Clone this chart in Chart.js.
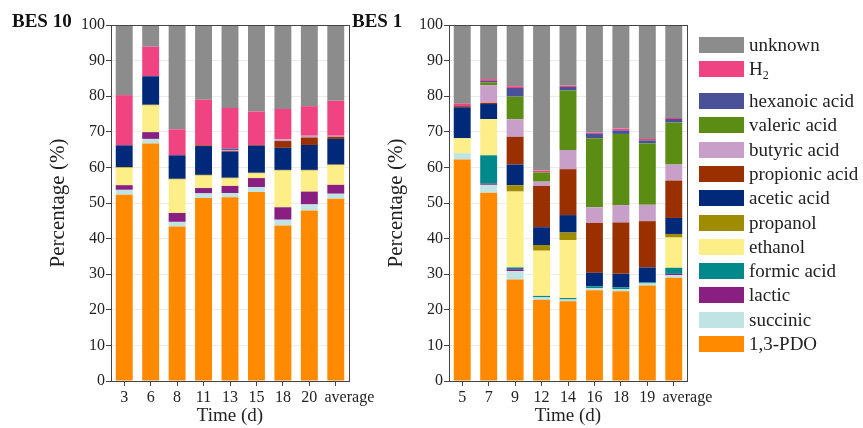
<!DOCTYPE html>
<html>
<head>
<meta charset="utf-8">
<script src="https://cdn.jsdelivr.net/npm/chart.js@4.4.1/dist/chart.umd.min.js"></script>
<style>
    body { margin: 0; background: #fff; font-family: 'Liberation Serif', serif; }
    #wrap { position: relative; width: 863px; height: 428px; overflow: hidden; }
    canvas { position: absolute; top: 0; }
    .panel-title { position: absolute; top: 11px; font-weight: bold; font-size: 19px; line-height: 19px; color: #111; }
    .legend-item { position: absolute; left: 699px; height: 16px; display: flex; align-items: center; font-size: 19px; color: #222; white-space: nowrap; }
    .legend-item .box { width: 45px; height: 16px; margin-right: 5px; flex: none; }
    .legend-item sub { font-size: 12px; position: relative; top: 4px; vertical-align: baseline; }
</style>
</head>
<body>
<div id="wrap">
    <canvas id="bes10" width="385" height="428" style="left:0px"></canvas>
    <canvas id="bes1" width="385" height="428" style="left:338px"></canvas>
    <div class="panel-title" style="left:12px">BES 10</div>
    <div class="panel-title" style="left:352px">BES 1</div>
    <div id="legend"></div>
</div>
<script>
// time points
const bes10Days = ['3', '6', '8', '11', '13', '15', '18', '20', 'average'];
const bes1Days = ['5', '7', '9', '12', '14', '16', '18', '19', 'average'];

// stacked from the bottom up
const seriesNames = ['1,3-PDO', 'succinic', 'lactic', 'formic acid', 'ethanol', 'propanol', 'acetic acid',
    'propionic acid', 'butyric acid', 'valeric acid', 'hexanoic acid', 'H2', 'unknown'];

// BES 10 (%)
const pdo10 = [52.3, 66.7, 43.4, 51.4, 51.6, 53.1, 43.7, 47.9, 51.2];
const succinic10 = [1.4, 1.3, 1.3, 1.3, 1.2, 1.4, 1.6, 1.7, 1.4];
const lactic10 = [1.3, 1.9, 2.5, 1.5, 2.0, 2.5, 3.5, 3.6, 2.5];
const formic10 = [0, 0, 0, 0, 0, 0, 0, 0, 0];
const ethanol10 = [4.9, 7.5, 9.4, 3.5, 2.1, 1.3, 10.3, 5.9, 5.5];
const propanol10 = [0.2, 0.2, 0.2, 0.2, 0.2, 0.2, 0.2, 0.2, 0.2];
const acetic10 = [6.1, 8.0, 6.6, 8.1, 7.3, 7.6, 6.2, 7.0, 7.2];
const propionic10 = [0, 0, 0, 0.2, 0.2, 0.2, 1.9, 2.1, 0.6];
const butyric10 = [0, 0, 0, 0, 0.3, 0, 0.5, 0.5, 0.3];
const valeric10 = [0, 0, 0, 0, 0, 0, 0, 0, 0];
const hexanoic10 = [0, 0, 0, 0, 0.4, 0, 0, 0, 0];
const h2_10 = [14.1, 8.3, 7.3, 12.8, 11.4, 9.4, 8.5, 8.3, 9.8];
const unknown10 = [19.7, 6.1, 29.3, 21.0, 23.3, 24.3, 23.6, 22.8, 21.3];

// BES 1 (%)
const pdo1 = [62.2, 52.9, 28.5, 22.8, 22.4, 25.5, 25.2, 26.8, 29.0];
const succinic1 = [1.8, 2.2, 2.4, 0.7, 0.5, 0.6, 0.6, 0.6, 0.7];
const lactic1 = [0, 0.3, 0.5, 0, 0, 0, 0, 0, 0.4];
const formic1 = [0, 8.0, 0.5, 0.4, 0.4, 0.5, 0.5, 0.3, 1.7];
const ethanol1 = [4.2, 10.2, 21.3, 12.7, 16.3, 0, 0, 0, 8.5];
const propanol1 = [0, 0, 1.8, 1.6, 2.1, 0, 0, 0, 1.0];
const acetic1 = [8.7, 4.2, 5.8, 5.0, 4.9, 3.8, 3.8, 4.2, 4.5];
const propionic1 = [0.3, 0.3, 7.8, 11.6, 12.9, 14.0, 14.4, 13.0, 10.5];
const butyric1 = [0, 5.0, 4.9, 1.2, 5.4, 4.4, 4.9, 4.6, 4.5];
const valeric1 = [0, 0.8, 6.4, 2.6, 16.7, 19.4, 20.0, 17.3, 11.8];
const hexanoic1 = [0, 0.4, 2.4, 0, 1.0, 1.2, 1.0, 0.8, 1.0];
const h2_1 = [0.7, 0.5, 0.5, 0.5, 0.4, 0.3, 0.5, 0.4, 0.3];
const unknown1 = [22.1, 15.2, 17.2, 40.9, 17.0, 30.3, 29.1, 32.0, 26.1];

const yTicks = [0, 10, 20, 30, 40, 50, 60, 70, 80, 90, 100];

const seriesColors = ['#ff8a00', '#c0e4e4', '#891f80', '#00898a', '#fdee88', '#a08c00', '#00297a',
    '#9a3000', '#c89fc8', '#5b8c14', '#4a5199', '#f04382', '#8c8c8c'];

const bes10Data = [pdo10, succinic10, lactic10, formic10, ethanol10, propanol10, acetic10,
    propionic10, butyric10, valeric10, hexanoic10, h2_10, unknown10];
const bes1Data = [pdo1, succinic1, lactic1, formic1, ethanol1, propanol1, acetic1,
    propionic1, butyric1, valeric1, hexanoic1, h2_1, unknown1];

const fontFamily = "'Liberation Serif', 'Times New Roman', serif";
const axisColor = '#444';

// box around the plot area
const framePlugin = {
    id: 'frame',
    afterDraw(chart) {
        const { ctx, chartArea: a } = chart;
        ctx.save();
        ctx.strokeStyle = axisColor;
        ctx.lineWidth = 1;
        ctx.strokeRect(a.left + 0.5, a.top + 0.5, a.right - a.left, a.bottom - a.top);
        ctx.restore();
    }
};

function makeChart(id, labels, data) {
    const datasets = seriesNames.map((name, i) => ({
        label: name,
        data: data[i],
        backgroundColor: seriesColors[i],
        borderWidth: 0,
        barPercentage: 0.64,
        categoryPercentage: 1.0
    }));
    return new Chart(document.getElementById(id), {
        type: 'bar',
        data: { labels: labels, datasets: datasets },
        options: {
            responsive: false,
            animation: false,
            layout: { padding: { left: 46, right: 36, top: 25, bottom: 0 } },
            plugins: { legend: { display: false }, tooltip: { enabled: false } },
            scales: {
                x: {
                    stacked: true,
                    afterFit(scale) {
                        scale.height = 47;
                        // labels may run past the plot edge, keep the plot width fixed
                        scale.paddingLeft = 0;
                        scale.paddingRight = 0;
                    },
                    grid: { offset: false, drawOnChartArea: false, tickLength: 5, tickColor: axisColor },
                    border: { color: axisColor },
                    ticks: {
                        color: '#222', font: { family: fontFamily, size: 16 }, padding: 2, maxRotation: 0, autoSkip: false,
                        // the 'average' label sits a bit right of its tick in the original
                        callback: (v, i) => labels[i] === 'average' ? '\u2003\u2002\u2009' + labels[i] : labels[i]
                    },
                    title: { display: true, text: 'Time (d)', color: '#222', font: { family: fontFamily, size: 19 }, padding: { top: 0, bottom: 1 } }
                },
                y: {
                    stacked: true,
                    min: 0,
                    max: 100,
                    afterFit(scale) { scale.width = 65; },
                    afterBuildTicks(scale) { scale.ticks = yTicks.map(v => ({ value: v })); },
                    grid: { color: '#ececec', tickLength: 5, tickColor: axisColor },
                    border: { color: axisColor },
                    ticks: { color: '#222', font: { family: fontFamily, size: 16 }, padding: 1 },
                    title: { display: true, text: 'Percentage (%)', color: '#222', font: { family: fontFamily, size: 21 }, padding: { top: 0, bottom: 0 } }
                }
            }
        },
        plugins: [framePlugin]
    });
}

makeChart('bes10', bes10Days, bes10Data);
makeChart('bes1', bes1Days, bes1Data);

// legend, top entry is the top of the stack
const legend = document.getElementById('legend');
const order = seriesNames.map((n, i) => i).reverse();
order.forEach((idx, k) => {
    let top = k === 0 ? 37 : k === 1 ? 61 : 93 + (k - 2) * 24.3;
    const item = document.createElement('div');
    item.className = 'legend-item';
    item.style.top = top + 'px';
    const box = document.createElement('span');
    box.className = 'box';
    box.style.background = seriesColors[idx];
    const text = document.createElement('span');
    const name = seriesNames[idx];
    if (name === 'H2') {
        text.innerHTML = 'H<sub>2</sub>';
    } else {
        text.textContent = name;
    }
    item.appendChild(box);
    item.appendChild(text);
    legend.appendChild(item);
});
</script>
</body>
</html>
